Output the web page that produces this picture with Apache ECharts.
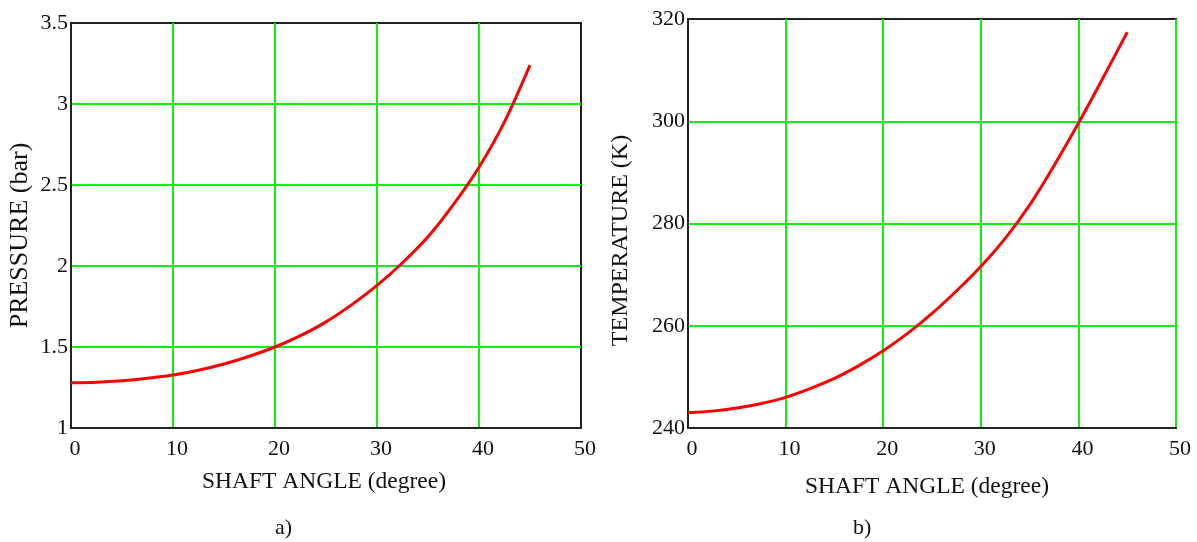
<!DOCTYPE html>
<html>
<head>
<meta charset="utf-8">
<script src="https://cdn.jsdelivr.net/npm/echarts@6/dist/echarts.min.js"></script>
<style>
html,body{margin:0;padding:0;background:#fff;}
#chart{width:1197px;height:542px;}
</style>
</head>
<body>
<div id="chart"></div>
<script>
// ---- data ----
const shaftAngle = [0, 2.5, 5, 7.5, 10, 12.5, 15, 17.5, 20, 22.5, 25, 27.5, 30, 32.5, 35, 37.5, 40, 42.5, 45];
const pressure = [1.28, 1.283, 1.292, 1.307, 1.327, 1.357, 1.395, 1.443, 1.50, 1.57, 1.655, 1.76, 1.88, 2.02, 2.18, 2.38, 2.61, 2.89, 3.24];
const temperature = [243.0, 243.3, 243.9, 244.8, 246.0, 247.7, 249.7, 252.2, 255.1, 258.5, 262.4, 266.8, 271.6, 277.1, 283.6, 291.3, 299.6, 308.4, 317.4];
const xTitle = 'SHAFT ANGLE (degree)';
const yTitleA = 'PRESSURE (bar)';
const yTitleB = 'TEMPERATURE (K)';
const panelLabels = ['a)', 'b)'];

const FONT = '"Liberation Serif", "Times New Roman", serif';
const GREEN = '#10f010';
const RED = '#ff0000';

function pairs(xs, ys) { return xs.map((x, i) => [x, ys[i]]); }

function xAxis(gridIndex, showMax, gap, shiftLeft) {
  return {
    type: 'value', gridIndex, min: 0, max: 50, interval: 10,
    name: xTitle, nameLocation: 'middle', nameGap: gap,
    nameTextStyle: { fontFamily: FONT, fontSize: 23.5, color: '#111', padding: [0, shiftLeft, 0, 0] },
    axisLine: { show: true, onZero: false, lineStyle: { color: '#222', width: 2 } },
    axisTick: { show: false },
    axisLabel: { fontFamily: FONT, fontSize: 22, color: '#111', margin: 10, padding: [0, 0, 0, 8] },
    splitLine: { show: true, showMinLine: false, showMaxLine: showMax, lineStyle: { color: GREEN, width: 2 } }
  };
}
function yAxis(gridIndex, min, max, interval, name, gap, shift, fs) {
  return {
    type: 'value', gridIndex, min, max, interval,
    name, nameLocation: 'middle', nameGap: gap,
    nameTextStyle: { fontFamily: FONT, fontSize: fs, color: '#111', padding: [0, shift, 0, 0] },
    axisLine: { show: true, onZero: false, lineStyle: { color: '#222', width: 2 } },
    axisTick: { show: false },
    axisLabel: { fontFamily: FONT, fontSize: 22, color: '#111', margin: 3, padding: [8, 0, 0, 0] },
    splitLine: { show: true, showMinLine: false, showMaxLine: false, lineStyle: { color: GREEN, width: 2 } }
  };
}

const chart = echarts.init(document.getElementById('chart'), null, { renderer: 'canvas' });
chart.setOption({
  animation: false,
  backgroundColor: '#fff',
  grid: [
    { left: 71, top: 23, width: 510, height: 405, show: true, borderColor: '#222', borderWidth: 2, backgroundColor: 'transparent' },
    { left: 688, top: 19, width: 488, height: 409, show: true, borderColor: '#222', borderWidth: 2, backgroundColor: 'transparent' }
  ],
  xAxis: [xAxis(0, false, 42, 4), xAxis(1, true, 47, 10)],
  yAxis: [
    yAxis(0, 1, 3.5, 0.5, yTitleA, 38, 20, 26),
    yAxis(1, 240, 320, 20, yTitleB, 55, 34, 24)
  ],
  series: [
    { type: 'line', xAxisIndex: 0, yAxisIndex: 0, data: pairs(shaftAngle, pressure), smooth: 0.3, showSymbol: false, lineStyle: { color: RED, width: 3 }, z: 5 },
    { type: 'line', xAxisIndex: 1, yAxisIndex: 1, data: pairs(shaftAngle, temperature), smooth: 0.3, showSymbol: false, lineStyle: { color: RED, width: 3 }, z: 5 }
  ],
  graphic: [
    { type: 'text', left: 275, top: 517, style: { text: panelLabels[0], font: '22px ' + FONT, fill: '#111' } },
    { type: 'text', left: 853, top: 517, style: { text: panelLabels[1], font: '22px ' + FONT, fill: '#111' } }
  ]
});
</script>
</body>
</html>
